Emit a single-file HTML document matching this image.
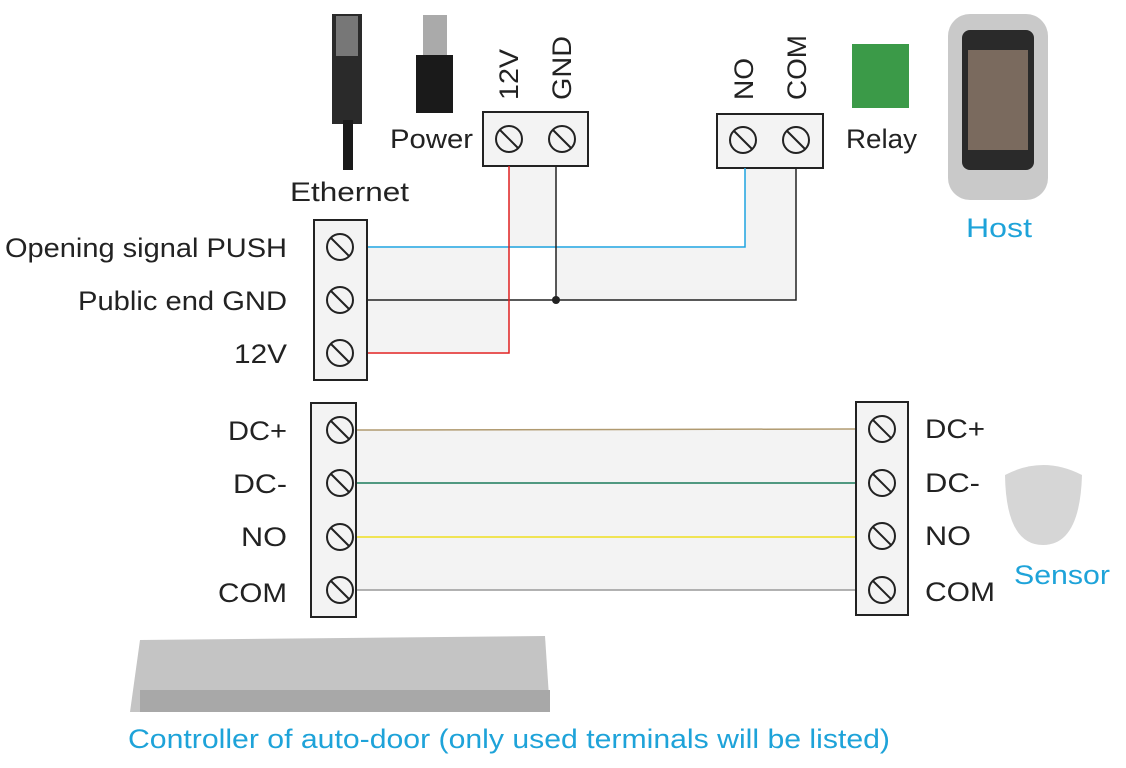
<!DOCTYPE html>
<html><head><meta charset="utf-8"><style>
body{margin:0;background:#fff;width:1126px;height:763px;overflow:hidden}
text{font-family:"Liberation Sans",sans-serif;font-size:27px;fill:#222}
.b{fill:#1ea3d9}
</style></head><body>
<svg width="1126" height="763" viewBox="0 0 1126 763">
<defs>
<g id="s"><circle r="13" fill="none" stroke="#222" stroke-width="2"/><line x1="-9" y1="-9" x2="9" y2="9" stroke="#222" stroke-width="2"/></g>
</defs>
<path d="M367,248 H745 V168 H796 V300 H556 V166 H509 V352 H367 Z" fill="#f3f3f3"/>
<rect x="356" y="430" width="500" height="160" fill="#f3f3f3"/>
<rect x="332" y="14" width="30" height="110" fill="#2a2a2a"/>
<rect x="336" y="16" width="22" height="40" fill="#777"/>
<rect x="343" y="120" width="10" height="50" fill="#1a1a1a"/>
<rect x="423" y="15" width="24" height="41" fill="#aaa"/>
<rect x="416" y="55" width="37" height="58" fill="#1a1a1a"/>
<text x="390" y="148" textLength="83" lengthAdjust="spacingAndGlyphs">Power</text>
<text x="290" y="201" textLength="119" lengthAdjust="spacingAndGlyphs">Ethernet</text>
<text transform="translate(518,100) rotate(-90)" textLength="51" lengthAdjust="spacingAndGlyphs">12V</text>
<text transform="translate(571,100) rotate(-90)" textLength="64" lengthAdjust="spacingAndGlyphs">GND</text>
<text transform="translate(753,100) rotate(-90)" textLength="42" lengthAdjust="spacingAndGlyphs">NO</text>
<text transform="translate(806,100) rotate(-90)" textLength="65" lengthAdjust="spacingAndGlyphs">COM</text>
<rect x="852" y="44" width="57" height="64" fill="#3b9a48"/>
<text x="846" y="148" textLength="71" lengthAdjust="spacingAndGlyphs">Relay</text>
<rect x="948" y="14" width="100" height="186" rx="22" fill="#c9c9c9"/>
<rect x="962" y="30" width="72" height="140" rx="8" fill="#2a2a2a"/>
<rect x="968" y="50" width="60" height="100" fill="#7a6a5e"/>
<text class="b" x="966" y="237" textLength="66" lengthAdjust="spacingAndGlyphs">Host</text>
<rect x="483" y="112" width="105" height="54" fill="#f3f3f3" stroke="#222" stroke-width="2"/>
<use href="#s" x="509" y="139"/><use href="#s" x="562" y="139"/>
<rect x="717" y="114" width="106" height="54" fill="#f3f3f3" stroke="#222" stroke-width="2"/>
<use href="#s" x="743" y="140"/><use href="#s" x="796" y="140"/>
<polyline points="367,247 745,247 745,168" fill="none" stroke="#1ea3e0" stroke-width="1.5"/>
<polyline points="367,300 796,300 796,168" fill="none" stroke="#222" stroke-width="1.5"/>
<line x1="556" y1="166" x2="556" y2="300" stroke="#222" stroke-width="1.5"/>
<circle cx="556" cy="300" r="4" fill="#222"/>
<polyline points="367,353 509,353 509,166" fill="none" stroke="#e02020" stroke-width="1.5"/>
<rect x="314" y="220" width="53" height="160" fill="#f3f3f3" stroke="#222" stroke-width="2"/>
<use href="#s" x="340" y="247"/><use href="#s" x="340" y="300"/><use href="#s" x="340" y="353"/>
<text x="5" y="257" textLength="282" lengthAdjust="spacingAndGlyphs">Opening signal PUSH</text>
<text x="78" y="310" textLength="209" lengthAdjust="spacingAndGlyphs">Public end GND</text>
<text x="234" y="363" textLength="53" lengthAdjust="spacingAndGlyphs">12V</text>
<line x1="356" y1="430" x2="856" y2="429" stroke="#b09a70" stroke-width="1.5"/>
<line x1="356" y1="483" x2="856" y2="483" stroke="#1a7a5a" stroke-width="1.5"/>
<line x1="356" y1="537" x2="856" y2="537" stroke="#f0e020" stroke-width="1.5"/>
<line x1="356" y1="590" x2="856" y2="590" stroke="#999" stroke-width="1.5"/>
<rect x="311" y="403" width="45" height="214" fill="#f3f3f3" stroke="#222" stroke-width="2"/>
<rect x="856" y="402" width="52" height="213" fill="#f3f3f3" stroke="#222" stroke-width="2"/>
<use href="#s" x="340" y="430"/><use href="#s" x="340" y="483"/><use href="#s" x="340" y="537"/><use href="#s" x="340" y="590"/>
<use href="#s" x="882" y="429"/><use href="#s" x="882" y="483"/><use href="#s" x="882" y="536"/><use href="#s" x="882" y="590"/>
<text x="228" y="440" textLength="59" lengthAdjust="spacingAndGlyphs">DC+</text>
<text x="233" y="493" textLength="54" lengthAdjust="spacingAndGlyphs">DC-</text>
<text x="241" y="546" textLength="46" lengthAdjust="spacingAndGlyphs">NO</text>
<text x="218" y="602" textLength="69" lengthAdjust="spacingAndGlyphs">COM</text>
<text x="925" y="438" textLength="60" lengthAdjust="spacingAndGlyphs">DC+</text>
<text x="925" y="492" textLength="55" lengthAdjust="spacingAndGlyphs">DC-</text>
<text x="925" y="545" textLength="46" lengthAdjust="spacingAndGlyphs">NO</text>
<text x="925" y="601" textLength="70" lengthAdjust="spacingAndGlyphs">COM</text>
<path d="M1005,475 Q1043,455 1082,475 Q1080,545 1043,545 Q1006,545 1005,475 Z" fill="#d6d6d6"/>
<text class="b" x="1014" y="584" textLength="96" lengthAdjust="spacingAndGlyphs">Sensor</text>
<path d="M140,640 L545,636 L550,712 L130,712 Z" fill="#c4c4c4"/>
<rect x="140" y="690" width="410" height="22" fill="#a8a8a8"/>
<text class="b" x="128" y="748" textLength="762" lengthAdjust="spacingAndGlyphs">Controller of auto-door (only used terminals will be listed)</text>
</svg>
</body></html>
